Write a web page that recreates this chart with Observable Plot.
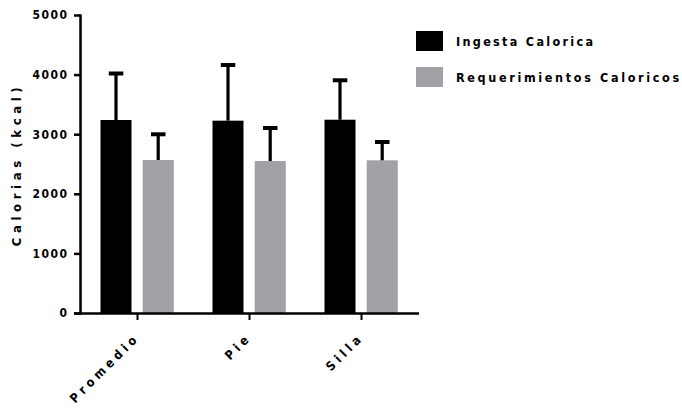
<!DOCTYPE html>
<html><head><meta charset="utf-8">
<script src="https://cdn.jsdelivr.net/npm/d3@7"></script>
<script src="https://cdn.jsdelivr.net/npm/@observablehq/plot@0.6"></script>
<style>
body{margin:0;background:#fff;}
#wrap{position:relative;width:682px;height:414px;font-family:"Liberation Sans Narrow","Arial Narrow","DejaVu Sans Condensed","Liberation Sans",sans-serif;font-weight:bold;}
#wrap svg{position:absolute;left:0;top:0;}
#legend{position:absolute;left:416px;top:31px;}
.item{display:flex;align-items:center;height:20px;margin-bottom:16px;font-size:12.5px;color:#000;white-space:nowrap;}
.sw{width:27px;height:20px;margin-right:13px;flex:none;}
</style></head><body><div id="wrap"></div>
<script>
const categories = ["Promedio", "Pie", "Silla"];
const series = ["Ingesta Calorica", "Requerimientos Caloricos"];
const ingestaMean = [3238, 3227, 3243];
const ingestaSD = [789, 942, 670];
const reqMean = [2567, 2550, 2562];
const reqSD = [440, 562, 316];
const yTicks = [0, 1000, 2000, 3000, 4000, 5000];
const yTitle = "Calorias (kcal)";
const colors = ["#000000", "#a2a2a6"];
const legendSpacing = ["2.3px", "2.65px"];

const rows = categories.flatMap((c, i) => [
  {cat: c, series: series[0], mean: ingestaMean[i], hi: ingestaMean[i] + ingestaSD[i]},
  {cat: c, series: series[1], mean: reqMean[i], hi: reqMean[i] + reqSD[i]}
]);
const s0 = rows.filter(d => d.series === series[0]);
const s1 = rows.filter(d => d.series === series[1]);

const font = '"Liberation Sans Narrow","Arial Narrow","DejaVu Sans Condensed","Liberation Sans",sans-serif';

const svg = Plot.plot({
  width: 682,
  height: 414,
  marginLeft: 80,
  marginRight: 264,
  marginTop: 15,
  marginBottom: 101,
  style: {fontFamily: font, fontWeight: "bold", fontSize: "12px", color: "#000", background: "transparent"},
  x: {domain: categories, padding: 0},
  y: {domain: [0, 5000]},
  marks: [
    Plot.barY(s0, {x: "cat", y: "mean", fill: colors[0], insetLeft: 19.5, insetRight: 61.5}),
    Plot.barY(s1, {x: "cat", y: "mean", fill: colors[1], insetLeft: 61.7, insetRight: 19.2}),
    Plot.barY(s0, {x: "cat", y1: "mean", y2: "hi", fill: "#000", insetLeft: 33.4, insetRight: 75.4}),
    Plot.barY(s1, {x: "cat", y1: "mean", y2: "hi", fill: "#000", insetLeft: 75.6, insetRight: 33.2}),
    Plot.tickY(s0, {x: "cat", y: "hi", stroke: "#000", strokeWidth: 4, insetLeft: 27.8, insetRight: 69.7}),
    Plot.tickY(s1, {x: "cat", y: "hi", stroke: "#000", strokeWidth: 4, insetLeft: 70, insetRight: 27.5}),
    Plot.ruleY([0], {stroke: "#000", strokeWidth: 2.5, insetLeft: -6, insetRight: -1}),
    Plot.frame({anchor: "left", stroke: "#000", strokeWidth: 2.5}),
    Plot.axisY({ticks: yTicks, tickFormat: d3.format("d"), tickSize: 6, tickPadding: 6, strokeWidth: 2.5, label: null, fontSize: 12}),
    Plot.axisX({tickRotate: -45, tickSize: 7, tickPadding: 15, strokeWidth: 2, label: null, fontSize: 12.5}),
    Plot.text([yTitle], {frameAnchor: "left", textAnchor: "middle", rotate: -90, dx: -64, fontSize: 13, fontWeight: "bold"})
  ]
});
document.getElementById("wrap").appendChild(svg);

// letter spacing of the different texts
d3.select(svg).selectAll("text").each(function() {
  const t = this.textContent;
  const el = d3.select(this);
  if (t === yTitle) el.style("letter-spacing", "4.6px");
  else if (categories.includes(t)) el.style("letter-spacing", "4px");
  else if (/^\d+$/.test(t)) el.style("letter-spacing", "1.5px");
});

const legend = document.createElement("div");
legend.id = "legend";
series.forEach((s, i) => {
  const item = document.createElement("div");
  item.className = "item";
  item.style.letterSpacing = legendSpacing[i];
  const sw = document.createElement("div");
  sw.className = "sw";
  sw.style.background = colors[i];
  const t = document.createElement("span");
  t.textContent = s;
  item.appendChild(sw);
  item.appendChild(t);
  legend.appendChild(item);
});
document.getElementById("wrap").appendChild(legend);
</script></body></html>
